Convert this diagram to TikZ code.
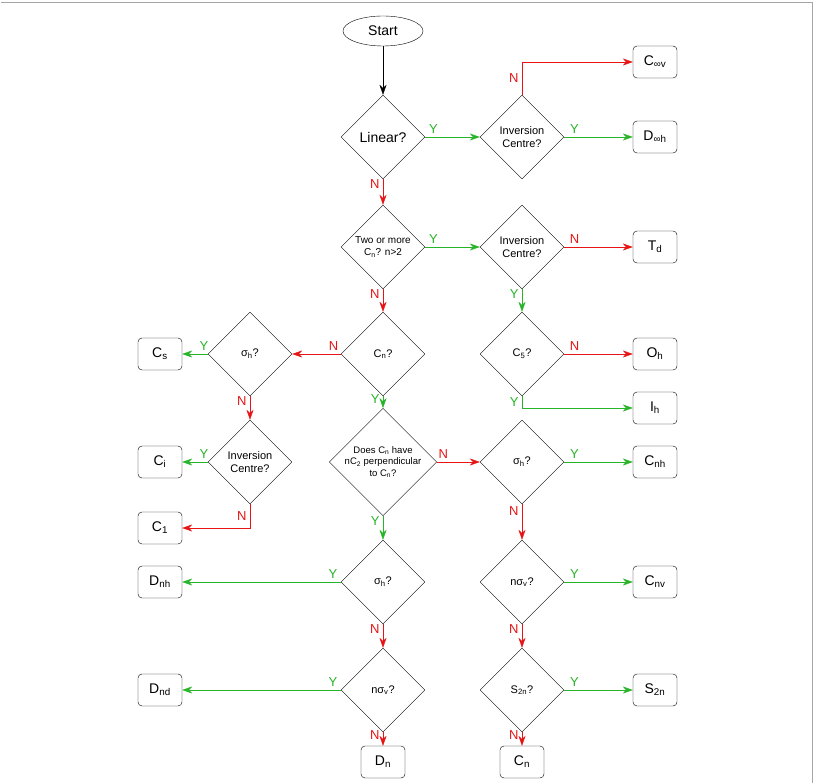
\documentclass[tikz,border=0pt]{standalone}
\usepackage{fontspec}
\setmainfont{Liberation Sans}
\usetikzlibrary{arrows.meta,shapes.geometric}

\tikzset{
  decision/.style={draw,diamond,minimum width=84pt,minimum height=84pt,inner sep=0pt,align=center,font=\fontsize{11}{13}\selectfont},
  term/.style={draw,rounded corners=4pt,minimum width=44pt,minimum height=32pt,font=\fontsize{14}{16}\selectfont},
  yes/.style={draw={rgb,255:red,40;green,180;blue,40},-{Stealth[length=10pt,width=7pt]},text={rgb,255:red,40;green,180;blue,40},font=\fontsize{13}{14}\selectfont},
  no/.style={draw={rgb,255:red,230;green,20;blue,20},-{Stealth[length=10pt,width=7pt]},text={rgb,255:red,230;green,20;blue,20},font=\fontsize{13}{14}\selectfont},
}
\newcommand{\sub}[1]{\textsubscript{#1}}

\begin{document}
\begin{tikzpicture}[x=1pt,y=1pt,yscale=-1]
\useasboundingbox (0,0) rectangle (816,783);
\draw [gray!70] (0.5,2.5) -- (812.5,2.5) -- (812.5,790);

% Start and first question
\node [draw,ellipse,minimum width=80pt,minimum height=30pt,font=\fontsize{14}{16}\selectfont] (start) at (383,31) {Start};
\node [decision,font=\fontsize{14}{16}\selectfont] (lin) at (383,137) {Linear?};
\node [decision] (inv1) at (522,137) {Inversion\\Centre?};
\node [term] (cinfv) at (655,62) {C\sub{∞v}};
\node [term] (dinfh) at (655,137) {D\sub{∞h}};

% high symmetry
\node [decision,font=\fontsize{10}{12}\selectfont] (two) at (383,247) {Two or more\\C\sub{n}? n>2};
\node [decision] (inv2) at (522,247) {Inversion\\Centre?};
\node [term] (td) at (655,247) {T\sub{d}};
\node [decision] (cfive) at (522,354) {C\sub{5}?};
\node [term] (oh) at (655,354) {O\sub{h}};
\node [term] (ih) at (655,408) {I\sub{h}};
\coordinate (ihc) at (522,408);

% low symmetry
\node [decision] (cn) at (383,354) {C\sub{n}?};
\node [decision] (sh1) at (250,354) {σ\sub{h}?};
\node [term] (cs) at (160,354) {C\sub{s}};
\node [decision] (inv3) at (250,462) {Inversion\\Centre?};
\node [term] (ci) at (160,462) {C\sub{i}};
\node [term] (cone) at (160,528) {C\sub{1}};
\coordinate (conec) at (250,528);

% D groups
\node [decision,minimum width=100pt,minimum height=100pt,font=\fontsize{9.5}{11.5}\selectfont] (perp) at (383,462) {Does C\sub{n} have\\nC\sub{2} perpendicular\\to C\sub{n}?};
\node [decision] (sh2) at (383,582) {σ\sub{h}?};
\node [term] (dnh) at (160,582) {D\sub{nh}};
\node [decision] (nsv1) at (383,690) {nσ\sub{v}?};
\node [term] (dnd) at (160,690) {D\sub{nd}};
\node [term] (dn) at (383,762) {D\sub{n}};

% C groups
\node [decision] (sh3) at (522,462) {σ\sub{h}?};
\node [term] (cnh) at (655,462) {C\sub{nh}};
\node [decision] (nsv2) at (522,582) {nσ\sub{v}?};
\node [term] (cnv) at (655,582) {C\sub{nv}};
\node [decision] (stwo) at (522,690) {S\sub{2n}?};
\node [term] (s2n) at (655,690) {S\sub{2n}};
\node [term] (cnn) at (522,762) {C\sub{n}};

% connectors
\draw [-{Stealth[length=10pt,width=7pt]}] (start) -- (lin);
\draw [yes] (lin) -- node[pos=0.15,above] {Y} (inv1);
\draw [yes] (inv1) -- node[pos=0.15,above] {Y} (dinfh);
\draw [no] (inv1.north) |- node[pos=0.25,left] {N} (cinfv);
\draw [no] (lin) -- node[pos=0.2,left] {N} (two);
\draw [yes] (two) -- node[pos=0.15,above] {Y} (inv2);
\draw [no] (inv2) -- node[pos=0.15,above] {N} (td);
\draw [yes] (inv2) -- node[pos=0.2,left] {Y} (cfive);
\draw [no] (cfive) -- node[pos=0.15,above] {N} (oh);
\draw [yes] (cfive.south) -- node[pos=0.5,left] {Y} (ihc) -- (ih);
\draw [no] (two) -- node[pos=0.2,left] {N} (cn);
\draw [no] (cn) -- node[pos=0.15,above] {N} (sh1);
\draw [yes] (sh1) -- node[pos=0.15,above] {Y} (cs);
\draw [no] (sh1) -- node[pos=0.2,left] {N} (inv3);
\draw [yes] (inv3) -- node[pos=0.15,above] {Y} (ci);
\draw [no] (inv3.south) -- node[pos=0.5,left] {N} (conec) -- (cone);
\draw [yes] (cn) -- node[pos=0.2,left] {Y} (perp);
\draw [no] (perp) -- node[pos=0.15,above] {N} (sh3);
\draw [yes] (sh3) -- node[pos=0.15,above] {Y} (cnh);
\draw [no] (sh3) -- node[pos=0.2,left] {N} (nsv2);
\draw [yes] (nsv2) -- node[pos=0.15,above] {Y} (cnv);
\draw [no] (nsv2) -- node[pos=0.2,left] {N} (stwo);
\draw [yes] (stwo) -- node[pos=0.15,above] {Y} (s2n);
\draw [no] (stwo) -- node[pos=0.2,left] {N} (cnn);
\draw [yes] (perp) -- node[pos=0.2,left] {Y} (sh2);
\draw [yes] (sh2) -- node[pos=0.05,above] {Y} (dnh);
\draw [no] (sh2) -- node[pos=0.2,left] {N} (nsv1);
\draw [yes] (nsv1) -- node[pos=0.05,above] {Y} (dnd);
\draw [no] (nsv1) -- node[pos=0.2,left] {N} (dn);
\end{tikzpicture}
\end{document}
